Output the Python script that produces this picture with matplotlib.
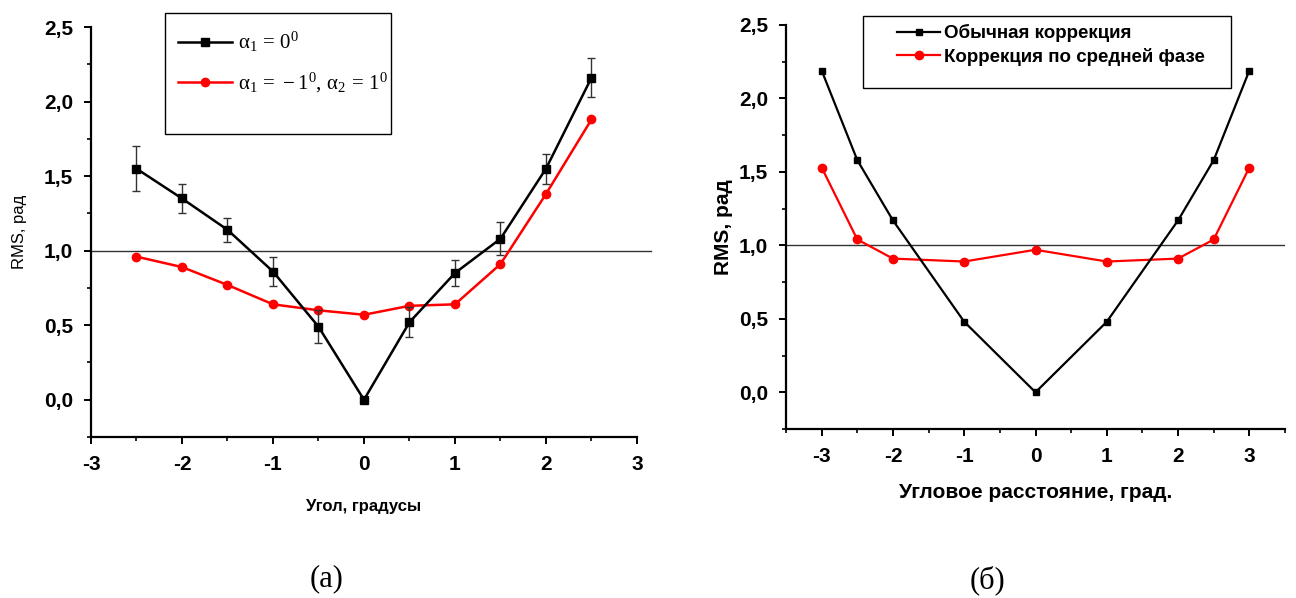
import matplotlib
matplotlib.use("Agg")
import matplotlib.pyplot as plt
from matplotlib.lines import Line2D
from matplotlib.patches import Rectangle
from matplotlib.ticker import MultipleLocator, FuncFormatter

# =========================
# Data
# =========================
# (a) left panel
angle_a = [-2.5, -2.0, -1.5, -1.0, -0.5, 0.0, 0.5, 1.0, 1.5, 2.0, 2.5]
rms_single = [1.55, 1.35, 1.14, 0.86, 0.49, 0.0, 0.52, 0.85, 1.08, 1.55, 2.16]
rms_single_err = [0.15, 0.10, 0.08, 0.10, 0.11, 0.0, 0.10, 0.09, 0.11, 0.10, 0.13]
rms_pair = [0.96, 0.89, 0.77, 0.64, 0.60, 0.57, 0.63, 0.64, 0.91, 1.38, 1.88]

# (б) right panel
angle_b = [-3.0, -2.5, -2.0, -1.0, 0.0, 1.0, 2.0, 2.5, 3.0]
rms_usual = [2.19, 1.58, 1.17, 0.48, 0.0, 0.48, 1.17, 1.58, 2.19]
rms_mean_phase = [1.53, 1.04, 0.91, 0.89, 0.97, 0.89, 0.91, 1.04, 1.53]

label_a1 = r"$\alpha_1\, =\, 0^0$"
label_a2 = r"$\alpha_1\, =\, -1^0,\, \alpha_2\, =\, 1^0$"
label_b1 = "Обычная коррекция"
label_b2 = "Коррекция по средней фазе"

SANS = ["Liberation Sans Narrow", "Liberation Sans", "DejaVu Sans"]
SERIF = ["Liberation Serif", "DejaVu Serif"]
plt.rcParams["mathtext.fontset"] = "stix"
plt.rcParams["mathtext.default"] = "regular"

comma_fmt = FuncFormatter(lambda v, p: f"{v:.1f}".replace(".", ","))
int_fmt = FuncFormatter(lambda v, p: f"{v:.0f}")

fig = plt.figure(figsize=(12.96, 5.98), dpi=100)
ax1 = fig.add_axes([0.0702, 0.2692, 0.4213, 0.6856])
ax2 = fig.add_axes([0.6065, 0.2826, 0.3850, 0.6756])


def style_axes(ax):
    for s in ["top", "right"]:
        ax.spines[s].set_visible(False)
    for s in ["left", "bottom"]:
        ax.spines[s].set_linewidth(1.6)
    ax.yaxis.set_major_locator(MultipleLocator(0.5))
    ax.yaxis.set_minor_locator(MultipleLocator(0.25))
    ax.xaxis.set_major_locator(MultipleLocator(1))
    ax.xaxis.set_minor_locator(MultipleLocator(0.5))
    ax.yaxis.set_major_formatter(comma_fmt)
    ax.xaxis.set_major_formatter(int_fmt)
    ax.tick_params(which="major", direction="out", length=5, width=1.4, pad=8)
    ax.tick_params(which="minor", direction="out", length=3, width=1.2)
    ax.set_ylim(-0.25, 2.5)


def bold_ticks(ax):
    for lab in ax.get_xticklabels() + ax.get_yticklabels():
        lab.set_family(SANS)
        lab.set_fontweight("bold")
        lab.set_fontsize(15)


def frame_box(x0, y0, x1, y1):
    # legend box in figure pixels (top-left origin)
    W, H = 1296, 598
    fig.patches.append(Rectangle((x0 / W, 1 - y1 / H), (x1 - x0) / W, (y1 - y0) / H,
                                 transform=fig.transFigure, fill=False,
                                 edgecolor="black", lw=1.0, zorder=5))


# =========================
# (a)
# =========================
style_axes(ax1)
ax1.set_xlim(-3, 3)
ax1.plot([-3, 3.15], [1.0, 1.0], color="#333333", lw=1.0, zorder=1, clip_on=False)
ax1.errorbar(angle_a, rms_single, yerr=rms_single_err, color="black", lw=1.8,
             marker="s", ms=5.5, ecolor="#333333", elinewidth=1.0, capsize=3,
             capthick=1.0, zorder=3)
ax1.plot(angle_a, rms_pair, color="red", lw=1.8, marker="o", ms=6, zorder=2)
ax1.set_xlabel("Угол, градусы", family=SANS, fontweight="bold", fontsize=12, labelpad=18)
ax1.set_ylabel("RMS, рад", family=SANS, fontsize=12, labelpad=12)
bold_ticks(ax1)

h1 = [Line2D([], [], color="black", lw=1.8, marker="s", ms=5.5),
      Line2D([], [], color="red", lw=1.8, marker="o", ms=6)]
fig.legend(h1, [label_a1, label_a2], loc="upper left",
           bbox_to_anchor=(178 / 1296, 1 - 30 / 598), bbox_transform=fig.transFigure,
           prop={"family": SERIF, "size": 15}, frameon=False, handlelength=2.6,
           labelspacing=0.8, borderpad=0, borderaxespad=0, handletextpad=0.3)
frame_box(165, 13, 391, 134)

# =========================
# (б)
# =========================
style_axes(ax2)
ax2.set_xlim(-3.5, 3.5)
ax2.axhline(1.0, color="#333333", lw=1.0, zorder=1)
ax2.plot(angle_b, rms_usual, color="black", lw=1.6, marker="s", ms=5, zorder=3)
ax2.plot(angle_b, rms_mean_phase, color="red", lw=1.6, marker="o", ms=6, zorder=2)
ax2.set_xlabel("Угловое расстояние, град.", family=SANS, fontweight="bold",
               fontsize=15, labelpad=12)
ax2.set_ylabel("RMS, рад", family=SANS, fontweight="bold", fontsize=15, labelpad=4)
bold_ticks(ax2)

h2 = [Line2D([], [], color="black", lw=1.6, marker="s", ms=5),
      Line2D([], [], color="red", lw=1.6, marker="o", ms=6)]
fig.legend(h2, [label_b1, label_b2], loc="upper left",
           bbox_to_anchor=(897 / 1296, 1 - 24 / 598), bbox_transform=fig.transFigure,
           prop={"family": SANS, "size": 13.5, "weight": "bold"}, frameon=False,
           handlelength=2.3, labelspacing=0.3, borderpad=0, borderaxespad=0,
           handletextpad=0.2)
frame_box(863, 16, 1231, 88)

# =========================
# Panel captions
# =========================
fig.text(0.252, 0.033, "(а)", family=SERIF, fontsize=22, ha="center", va="center")
fig.text(0.762, 0.030, "(б)", family=SERIF, fontsize=22, ha="center", va="center")

fig.savefig("out.png", dpi=100)
